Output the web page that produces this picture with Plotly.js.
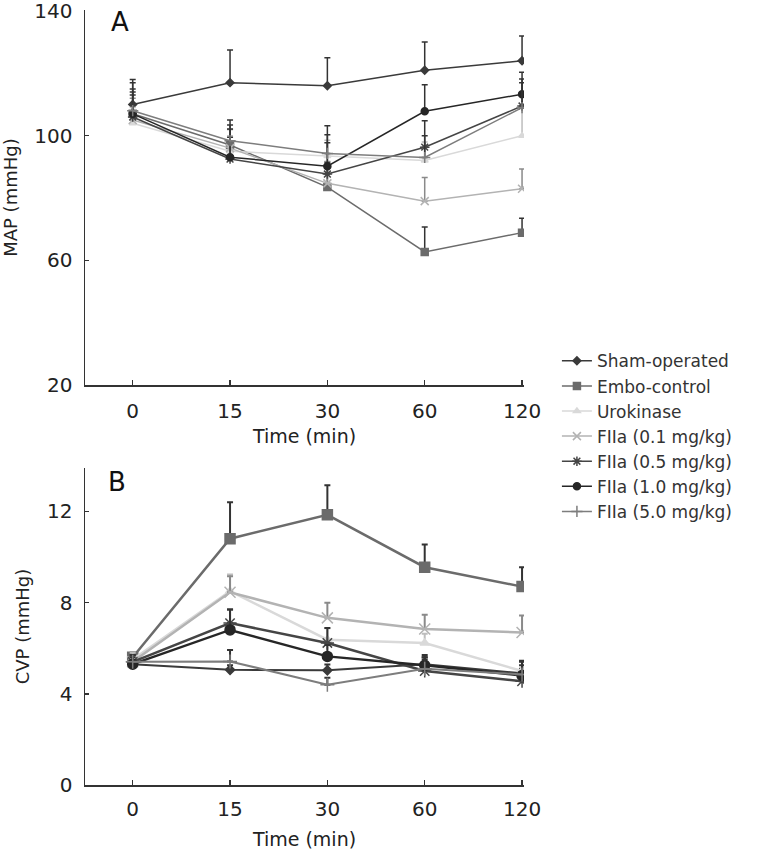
<!DOCTYPE html>
<html>
<head>
<meta charset="utf-8">
<script src="https://cdn.plot.ly/plotly-3.0.1.min.js"></script>
<style>html,body{margin:0;padding:0;background:#fff;}</style>
</head>
<body>
<div id="chart" style="width:757px;height:851px;"></div>
<script>
// ---- data ----
const times = ["0", "15", "30", "60", "120"];
const seriesNames = ["Sham-operated", "Embo-control", "Urokinase", "FIIa (0.1 mg/kg)", "FIIa (0.5 mg/kg)", "FIIa (1.0 mg/kg)", "FIIa (5.0 mg/kg)"];

// Panel A: MAP (mmHg), mean and upper SD
const mapSham = [110, 117, 116, 121, 124];
const mapShamErr = [8, 10.5, 9, 9, 8];
const mapEmbo = [107, 97, 83.5, 62.7, 68.9];
const mapEmboErr = [6, 8, 8, 8, 4.6];
const mapUro = [104, 95, 93.5, 92, 100];
const mapUroErr = [5, 5, 5, 6, 9];
const mapF01 = [105, 96, 84.7, 79, 83];
const mapF01Err = [7, 6, 7, 7.6, 6.3];
const mapF05 = [106, 92.5, 87.7, 96.3, 109.5];
const mapF05Err = [9, 7, 10, 8.5, 8.7];
const mapF10 = [107, 93.1, 90.2, 107.8, 113.3];
const mapF10Err = [10, 9, 13, 8.5, 7];
const mapF50 = [108, 98.4, 94.3, 93, 109];
const mapF50Err = [6, 5, 6, 7, 8];

// Panel B: CVP (mmHg), mean and upper SD
const cvpSham = [5.3, 5.05, 5.03, 5.3, 4.9];
const cvpShamErr = [0.3, 0.2, 0.25, 0.3, 0.2];
const cvpEmbo = [5.6, 10.8, 11.85, 9.55, 8.7];
const cvpEmboErr = [0.2, 1.6, 1.3, 1.0, 0.85];
const cvpUro = [5.5, 8.5, 6.37, 6.23, 5.0];
const cvpUroErr = [0.3, 0.73, 0.5, 0.4, 0.4];
const cvpF01 = [5.4, 8.45, 7.33, 6.84, 6.69];
const cvpF01Err = [0.3, 0.7, 0.66, 0.63, 0.74];
const cvpF05 = [5.4, 7.1, 6.23, 5.0, 4.55];
const cvpF05Err = [0.3, 0.6, 0.65, 0.6, 0.9];
const cvpF10 = [5.3, 6.8, 5.64, 5.25, 4.8];
const cvpF10Err = [0.3, 0.9, 0.5, 0.45, 0.6];
const cvpF50 = [5.4, 5.42, 4.4, 5.1, 4.85];
const cvpF50Err = [0.3, 0.5, 0.3, 0.4, 0.4];

const mapMeans = [mapSham, mapEmbo, mapUro, mapF01, mapF05, mapF10, mapF50];
const mapErrs = [mapShamErr, mapEmboErr, mapUroErr, mapF01Err, mapF05Err, mapF10Err, mapF50Err];
const cvpMeans = [cvpSham, cvpEmbo, cvpUro, cvpF01, cvpF05, cvpF10, cvpF50];
const cvpErrs = [cvpShamErr, cvpEmboErr, cvpUroErr, cvpF01Err, cvpF05Err, cvpF10Err, cvpF50Err];

// ---- styles ----
const styles = [
  {color: '#3a3a3a', symbol: 'diamond', sizeA: 6, sizeB: 7, wA: 1.5, wB: 2},
  {color: '#6b6b6b', symbol: 'square', sizeA: 7, sizeB: 10, wA: 1.5, wB: 2.5},
  {color: '#d9d9d9', symbol: 'triangle-up', sizeA: 6, sizeB: 8, wA: 1.5, wB: 2.5},
  {color: '#b3b3b3', symbol: 'x-thin-open', sizeA: 8, sizeB: 11, wA: 1.5, wB: 2.5},
  {color: '#454545', symbol: 'asterisk-open', sizeA: 8, sizeB: 11, wA: 1.5, wB: 2.5},
  {color: '#262626', symbol: 'circle', sizeA: 7, sizeB: 10, wA: 1.5, wB: 2.5},
  {color: '#7d7d7d', symbol: 'cross-thin-open', sizeA: 8, sizeB: 10, wA: 1.5, wB: 2}
];

function makeTrace(i, means, errs, panel) {
  const s = styles[i];
  const isA = panel === 'A';
  const errColor = (i === 2) ? '#bdbdbd' : (i === 3 ? '#8a8a8a' : '#333333');
  return {
    type: 'scatter',
    mode: 'lines+markers',
    name: seriesNames[i],
    x: times,
    y: means,
    xaxis: isA ? 'x' : 'x2',
    yaxis: isA ? 'y' : 'y2',
    showlegend: isA,
    legendgroup: seriesNames[i],
    line: {color: s.color, width: isA ? s.wA : s.wB},
    marker: {symbol: s.symbol, size: isA ? s.sizeA : s.sizeB, color: s.color,
             line: {color: s.color, width: 1.5}},
    error_y: {type: 'data', symmetric: false, array: errs, arrayminus: errs.map(() => 0),
              color: errColor, thickness: isA ? 1.5 : 2, width: 3},
    hoverinfo: 'x+y+name'
  };
}

const traces = [];
for (let i = 0; i < seriesNames.length; i++) traces.push(makeTrace(i, mapMeans[i], mapErrs[i], 'A'));
for (let i = 0; i < seriesNames.length; i++) traces.push(makeTrace(i, cvpMeans[i], cvpErrs[i], 'B'));

const axisCommon = {
  showline: true, linecolor: '#333', linewidth: 1.5, mirror: false,
  ticks: 'inside', tickcolor: '#333', tickwidth: 1.5,
  showgrid: false, zeroline: false, ticklabeloverflow: 'allow',
  tickfont: {family: 'DejaVu Sans', size: 20, color: '#222'}
};

const layout = {
  width: 757, height: 851,
  margin: {l: 85, r: 233, t: 10, b: 66, autoexpand: false},
  paper_bgcolor: '#ffffff', plot_bgcolor: '#ffffff',
  font: {family: 'DejaVu Sans', size: 18, color: '#222'},
  xaxis: Object.assign({}, axisCommon, {
    domain: [0, 1], anchor: 'y', type: 'category', range: [-0.49, 4.02], ticklen: 5,
    ticklabelstandoff: 7,
    title: {text: 'Time (min)', font: {size: 19}, standoff: 8}
  }),
  yaxis: Object.assign({}, axisCommon, {
    domain: [0.516, 1], anchor: 'x', range: [20, 140.3], tickvals: [20, 60, 100, 140], ticklen: 4,
    ticklabelstandoff: 7,
    title: {text: 'MAP (mmHg)', font: {size: 18}, standoff: 14}
  }),
  xaxis2: Object.assign({}, axisCommon, {
    domain: [0, 1], anchor: 'y2', type: 'category', range: [-0.49, 4.02], ticklen: 5,
    ticklabelstandoff: 5,
    title: {text: 'Time (min)', font: {size: 19}, standoff: 13}
  }),
  yaxis2: Object.assign({}, axisCommon, {
    domain: [0, 0.409], anchor: 'x2', range: [0, 13.9], tickvals: [0, 4, 8, 12], ticklen: 4,
    ticklabelstandoff: 7,
    title: {text: 'CVP (mmHg)', font: {size: 18}, standoff: 12}
  }),
  legend: {
    x: 1.075, xanchor: 'left', y: 0.570, yanchor: 'top',
    font: {family: 'DejaVu Sans', size: 17, color: '#333'},
    bgcolor: 'rgba(0,0,0,0)', borderwidth: 0, tracegroupgap: 0, itemwidth: 30
  },
  annotations: [
    {text: 'A', xref: 'paper', yref: 'paper', x: 0.08, y: 0.985, xanchor: 'center', yanchor: 'middle',
     showarrow: false, font: {size: 26, color: '#111'}},
    {text: 'B', xref: 'paper', yref: 'paper', x: 0.073, y: 0.391, xanchor: 'center', yanchor: 'middle',
     showarrow: false, font: {size: 26, color: '#111'}}
  ],
  showlegend: true
};

Plotly.newPlot('chart', traces, layout, {displayModeBar: false, staticPlot: true});
</script>
</body>
</html>
